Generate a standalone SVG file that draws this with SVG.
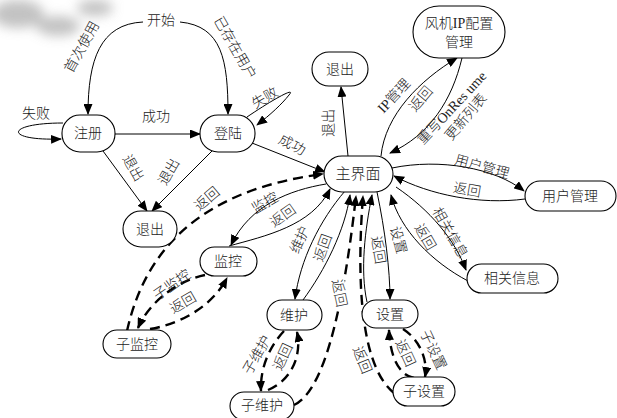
<svg xmlns="http://www.w3.org/2000/svg" width="617" height="418" viewBox="0 0 617 418">
<style>
text{font-family:"Liberation Serif","Noto Sans CJK SC",serif;font-size:14px;font-weight:300;fill:#222;text-anchor:middle;dominant-baseline:central}
.n rect{fill:#fff;stroke:#000;stroke-width:1.1}
.c path{fill:none;stroke:#000;stroke-width:1;marker-end:url(#a)}
.c path.d{stroke-width:2.4;stroke-dasharray:10 6;marker-end:url(#a)}
.bg{fill:#fff}
</style>
<defs>
<marker id="a" markerUnits="userSpaceOnUse" markerWidth="11" markerHeight="9" refX="10" refY="4.5" orient="auto"><path d="M0,0 L11,4.5 L0,9 z" fill="#000"/></marker>
<filter id="b" x="-50%" y="-50%" width="200%" height="200%"><feGaussianBlur stdDeviation="6"/></filter>
</defs>
<g id="watermark" filter="url(#b)" fill="#b4b4b4" opacity="0.8">
<ellipse cx="18" cy="14" rx="26" ry="14"/>
<ellipse cx="58" cy="26" rx="22" ry="10"/>
<ellipse cx="95" cy="8" rx="18" ry="8"/>
</g>
<g id="connectors" class="c">
<path d="M143,22 C100,24 88,60 88,114"/>
<path d="M180,22 C222,26 228,60 228,114"/>
<path d="M63,123 C5,123 3,141 61,139"/>
<path d="M115,134 L200,134"/>
<path d="M247,117 C272,100 297,86 289,95 C282,104 270,115 257,125"/>
<path d="M252,143 L325,172"/>
<path d="M103,151 L147,211"/>
<path d="M212,151 L152,211"/>
<path d="M348,156 L341,87"/>
<path d="M381,156 C385,115 420,80 457,58"/>
<path d="M462,58 C452,100 430,135 390,153"/>
<path d="M392,168 C440,158 495,168 524,191"/>
<path d="M525,199 C480,205 430,195 394,176"/>
<path d="M396,187 C430,210 455,240 466,270"/>
<path d="M468,281 C432,262 400,230 391,195"/>
<path d="M377,192 C385,230 390,270 390,299"/>
<path d="M367,302 C360,270 365,230 372,195"/>
<path d="M345,191 C320,220 300,260 295,299"/>
<path d="M303,300 C325,270 345,230 350,195"/>
<path d="M326,184 C290,190 250,205 231,245"/>
<path d="M229,246 C265,236 312,226 330,189"/>
<path class="d" d="M127,331 C145,250 200,190 323,174"/>
<path class="d" d="M205,275 C180,280 150,300 138,328"/>
<path class="d" d="M150,329 C175,325 210,310 227,278"/>
<path class="d" d="M284,331 C268,348 260,370 261,391"/>
<path class="d" d="M268,390 C292,380 302,355 297,332"/>
<path class="d" d="M294,405 C322,392 342,320 356,196"/>
<path class="d" d="M403,329 C420,340 428,360 425,377"/>
<path class="d" d="M414,378 C398,375 390,355 389,330"/>
<path class="d" d="M394,393 C365,370 355,300 363,196"/>
</g>
<g id="labels">
<text x="82" y="47" transform="rotate(-61 82 47)">首次使用</text>
<text x="235" y="48" transform="rotate(60 235 48)">已存在用户</text>
<text x="36" y="113">失败</text>
<text x="156" y="116">成功</text>
<text x="265" y="98" transform="rotate(-30 265 98)">失败</text>
<text x="292" y="145" transform="rotate(28 292 145)">成功</text>
<text x="133" y="168" transform="rotate(60 133 168)">退出</text>
<text x="169" y="172" transform="rotate(-60 169 172)">退出</text>
<text x="207" y="199" transform="rotate(-40 207 199)">返回</text>
<text x="265" y="203" transform="rotate(-30 265 203)">监控</text>
<text x="283" y="216" transform="rotate(-35 283 216)">返回</text>
<text x="328" y="123" transform="rotate(-90 328 123)">退出</text>
<text x="394" y="96" transform="rotate(-47 394 96)">IP管理</text>
<text x="421" y="99" transform="rotate(-50 421 99)">返回</text>
<text x="452" y="108" transform="rotate(-47 452 108)">重写OnRes ume</text>
<text x="466" y="117" transform="rotate(-50 466 117)">更新列表</text>
<text x="482" y="167" transform="rotate(15 482 167)">用户管理</text>
<text x="467" y="190" transform="rotate(10 467 190)">返回</text>
<text x="450" y="233" transform="rotate(60 450 233)">相关信息</text>
<text x="425" y="237" transform="rotate(60 425 237)">返回</text>
<text x="398" y="240" transform="rotate(75 398 240)">设置</text>
<text x="378" y="250" transform="rotate(80 378 250)">返回</text>
<text x="300" y="240" transform="rotate(-65 300 240)">维护</text>
<text x="323" y="248" transform="rotate(-70 323 248)">返回</text>
<g transform="rotate(78 339 293)"><rect class="bg" x="324" y="285" width="30" height="16"/><text x="339" y="293">返回</text></g>
<g transform="rotate(68 362 360)"><rect class="bg" x="347" y="352" width="30" height="16"/><text x="362" y="360">返回</text></g>
<text x="172" y="285" transform="rotate(-35 172 285)">子监控</text>
<text x="183" y="303" transform="rotate(-30 183 303)">返回</text>
<text x="257" y="355" transform="rotate(-60 257 355)">子维护</text>
<text x="283" y="357" transform="rotate(-65 283 357)">返回</text>
<text x="433" y="350" transform="rotate(65 433 350)">子设置</text>
<text x="405" y="353" transform="rotate(65 405 353)">返回</text>
</g>
<g id="start"><text x="161" y="20">开始</text></g>
<g id="register" class="n"><rect x="62" y="115" width="53" height="37" rx="18"/><text x="88" y="133">注册</text></g>
<g id="login" class="n"><rect x="200" y="115" width="55" height="37" rx="18"/><text x="228" y="133">登陆</text></g>
<g id="exit1" class="n"><rect x="123" y="211" width="54" height="36" rx="18"/><text x="150" y="229">退出</text></g>
<g id="main" class="n"><rect x="324" y="156" width="69" height="36" rx="18"/><text x="358" y="174" style="font-size:15px">主界面</text></g>
<g id="exit2" class="n"><rect x="312" y="52" width="56" height="34" rx="17"/><text x="340" y="69">退出</text></g>
<g id="ipconf" class="n"><rect x="413" y="6" width="92" height="52" rx="26"/><text x="459" y="23">风机IP配置</text><text x="459" y="42">管理</text></g>
<g id="usermgr" class="n"><rect x="525" y="181" width="91" height="30" rx="15"/><text x="570" y="196">用户管理</text></g>
<g id="info" class="n"><rect x="467" y="264" width="91" height="29" rx="14.5"/><text x="512" y="278">相关信息</text></g>
<g id="monitor" class="n"><rect x="200" y="247" width="57" height="29" rx="14.5"/><text x="228" y="261">监控</text></g>
<g id="submonitor" class="n"><rect x="103" y="330" width="68" height="28" rx="14"/><text x="137" y="344">子监控</text></g>
<g id="maint" class="n"><rect x="267" y="300" width="55" height="30" rx="15"/><text x="294" y="315">维护</text></g>
<g id="submaint" class="n"><rect x="230" y="392" width="64" height="28" rx="14"/><text x="262" y="405">子维护</text></g>
<g id="settings" class="n"><rect x="362" y="300" width="56" height="28" rx="14"/><text x="390" y="314">设置</text></g>
<g id="subsettings" class="n"><rect x="393" y="377" width="62" height="29" rx="14.5"/><text x="424" y="391">子设置</text></g>
</svg>
